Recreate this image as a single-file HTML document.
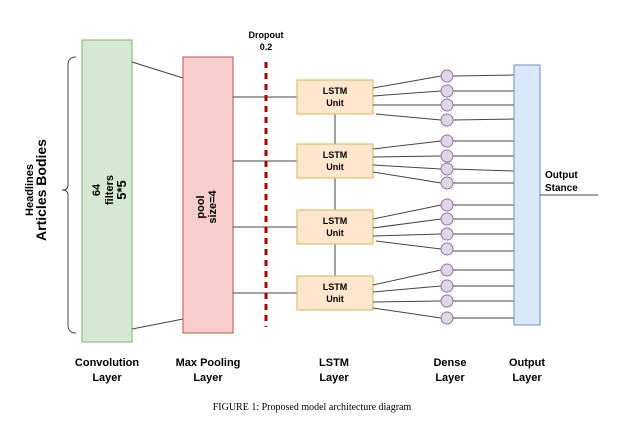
<!DOCTYPE html>
<html><head><style>body{margin:0;background:#fff}</style></head><body>
<svg width="624" height="424" xmlns="http://www.w3.org/2000/svg" font-family="Liberation Sans, Arial, sans-serif">
<rect width="624" height="424" fill="#fff"/>
<path d="M76 57 Q68 57 68 65 L68 185 Q68 190 62 190 Q68 190 68 195 L68 325 Q68 333 76 333" fill="none" stroke="#444" stroke-width="1"/>
<g transform="translate(33,190) rotate(-90)" text-anchor="middle" font-weight="bold"><text font-size="11" x="0" y="0">Headlines</text><text font-size="14" x="0" y="13">Articles Bodies</text></g>
<rect x="82" y="40" width="50" height="302" fill="#d5e8d4" stroke="#82b366"/>
<g transform="translate(100,190) rotate(-90)" text-anchor="middle" font-weight="bold" font-size="11"><text x="0" y="0">64</text><text x="0" y="13">filters</text><text x="0" y="26" font-size="13">5*5</text></g>
<line x1="132" y1="62" x2="183" y2="78" stroke="#444"/>
<line x1="132" y1="329" x2="183" y2="319" stroke="#444"/>
<rect x="183" y="57" width="50" height="276" fill="#f8cecc" stroke="#b85450"/>
<g transform="translate(204,207) rotate(-90)" text-anchor="middle" font-weight="bold" font-size="11"><text x="0" y="0">pool</text><text x="0" y="12">size=4</text></g>
<g stroke="#444"><line x1="233" y1="97" x2="297" y2="97"/><line x1="233" y1="161" x2="297" y2="161"/><line x1="233" y1="227" x2="297" y2="227"/><line x1="233" y1="293" x2="297" y2="293"/>
<line x1="335" y1="114" x2="335" y2="144"/><line x1="335" y1="178" x2="335" y2="210"/><line x1="335" y1="244" x2="335" y2="276"/></g>
<line x1="266" y1="62" x2="266" y2="327" stroke="#a00" stroke-width="3" stroke-dasharray="6,5"/>
<text x="266" y="38" font-size="9" font-weight="bold" text-anchor="middle">Dropout</text>
<text x="266" y="50" font-size="9" font-weight="bold" text-anchor="middle">0.2</text>
<g font-size="9" font-weight="bold" text-anchor="middle">
<rect x="297" y="80" width="76" height="34" fill="#ffe6cc" stroke="#d6b656"/><text x="335" y="94">LSTM</text><text x="335" y="106">Unit</text>
<rect x="297" y="144" width="76" height="34" fill="#ffe6cc" stroke="#d6b656"/><text x="335" y="158">LSTM</text><text x="335" y="170">Unit</text>
<rect x="297" y="210" width="76" height="34" fill="#ffe6cc" stroke="#d6b656"/><text x="335" y="224">LSTM</text><text x="335" y="236">Unit</text>
<rect x="297" y="276" width="76" height="34" fill="#ffe6cc" stroke="#d6b656"/><text x="335" y="290">LSTM</text><text x="335" y="302">Unit</text>
</g>
<g stroke="#444">
<line x1="373" y1="88" x2="441" y2="76"/><line x1="373" y1="96" x2="441" y2="91"/><line x1="373" y1="105" x2="441" y2="105"/><line x1="376" y1="114" x2="441" y2="120"/>
<line x1="373" y1="149" x2="441" y2="141"/><line x1="373" y1="157" x2="441" y2="156"/><line x1="373" y1="165" x2="441" y2="169"/><line x1="373" y1="172" x2="441" y2="183"/>
<line x1="373" y1="219" x2="441" y2="205"/><line x1="373" y1="228" x2="441" y2="219"/><line x1="373" y1="236" x2="441" y2="234"/><line x1="376" y1="241" x2="441" y2="249"/>
<line x1="373" y1="285" x2="441" y2="270"/><line x1="373" y1="292" x2="441" y2="286"/><line x1="373" y1="302" x2="441" y2="301"/><line x1="373" y1="308" x2="441" y2="318"/>
</g>
<g stroke="#444">
<line x1="453" y1="76" x2="514" y2="75"/><line x1="453" y1="91" x2="514" y2="91"/><line x1="453" y1="105" x2="514" y2="105"/><line x1="453" y1="120" x2="514" y2="119"/>
<line x1="453" y1="141" x2="514" y2="141"/><line x1="453" y1="156" x2="514" y2="156"/><line x1="453" y1="169" x2="514" y2="171"/><line x1="453" y1="183" x2="514" y2="183"/>
<line x1="453" y1="205" x2="514" y2="205"/><line x1="453" y1="219" x2="514" y2="219"/><line x1="453" y1="234" x2="514" y2="234"/><line x1="453" y1="251" x2="514" y2="251"/>
<line x1="453" y1="270" x2="514" y2="270"/><line x1="453" y1="286" x2="514" y2="286"/><line x1="453" y1="301" x2="514" y2="301"/><line x1="453" y1="318" x2="514" y2="318"/>
</g>
<g fill="#e1d5e7" stroke="#9673a6">
<circle cx="447" cy="76" r="6"/><circle cx="447" cy="91" r="6"/><circle cx="447" cy="105" r="6"/><circle cx="447" cy="120" r="6"/>
<circle cx="447" cy="141" r="6"/><circle cx="447" cy="156" r="6"/><circle cx="447" cy="169" r="6"/><circle cx="447" cy="183" r="6"/>
<circle cx="447" cy="205" r="6"/><circle cx="447" cy="219" r="6"/><circle cx="447" cy="234" r="6"/><circle cx="447" cy="249" r="6"/>
<circle cx="447" cy="270" r="6"/><circle cx="447" cy="286" r="6"/><circle cx="447" cy="301" r="6"/><circle cx="447" cy="318" r="6"/>
</g>
<rect x="514" y="65" width="26" height="260" fill="#dae8fc" stroke="#6c8ebf"/>
<line x1="540" y1="195" x2="598" y2="195" stroke="#444"/>
<text x="545" y="178" font-size="10" font-weight="bold">Output</text>
<text x="545" y="191" font-size="10" font-weight="bold">Stance</text>
<g font-size="11" font-weight="bold" text-anchor="middle">
<text x="107" y="366">Convolution</text><text x="107" y="381">Layer</text>
<text x="208" y="366">Max Pooling</text><text x="208" y="381">Layer</text>
<text x="334" y="366">LSTM</text><text x="334" y="381">Layer</text>
<text x="450" y="366">Dense</text><text x="450" y="381">Layer</text>
<text x="527" y="366">Output</text><text x="527" y="381">Layer</text>
</g>
<text x="312" y="410" font-size="10" font-family="Liberation Serif, serif" text-anchor="middle">FIGURE 1: Proposed model architecture diagram</text>
</svg>
</body></html>
